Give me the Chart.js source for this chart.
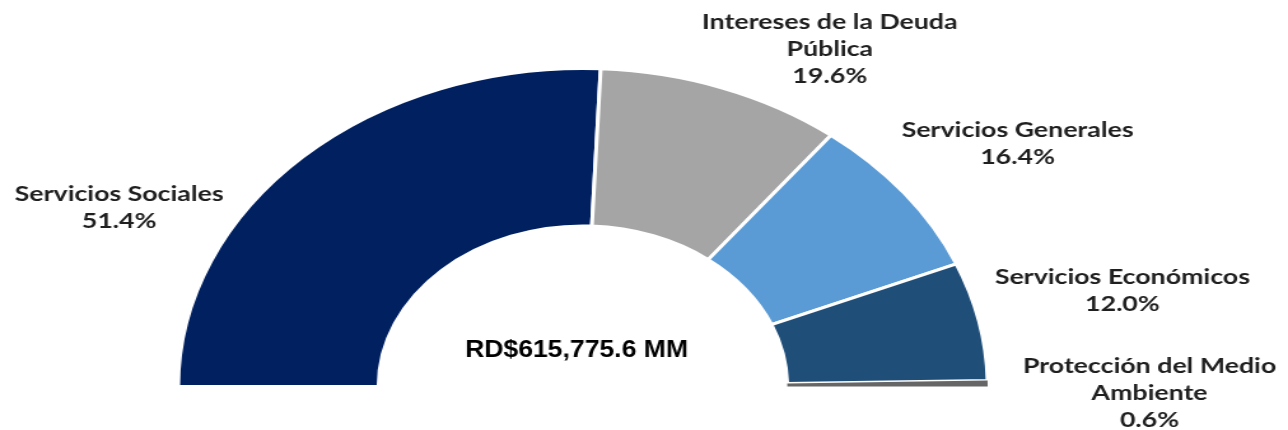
<!DOCTYPE html>
<html>
<head>
<meta charset="utf-8">
<script src="https://cdn.jsdelivr.net/npm/chart.js@4.4.1/dist/chart.umd.min.js"></script>
<style>
    html, body { margin: 0; padding: 0; background: #ffffff; }
</style>
</head>
<body>
<canvas id="budgetChart" width="1012" height="430" style="display:block;width:1288px;height:430px"></canvas>
<script>
// categories and shares (%) of the budget
const categories = [
    ['Servicios Sociales'],
    ['Intereses de la Deuda', 'Pública'],
    ['Servicios Generales'],
    ['Servicios Económicos'],
    ['Protección del Medio', 'Ambiente']
];
const shares = [51.4, 19.6, 16.4, 12.0, 0.6];
const totalLabel = 'RD$615,775.6 MM';

const sliceColors = ['#002060', '#a5a5a5', '#5b9bd5', '#1f4e79', '#666666'];
const sliceBorders = [3, 3, 3, 3, 0];

// label anchors, relative to the doughnut centre, in units of the outer radius
const labelAnchors = [
    [-1.146, -0.561],
    [0.61, -1.062],
    [1.074, -0.762],
    [1.333, -0.301],
    [1.40, 0.02]
];

const textPlugin = {
    id: 'textPlugin',
    afterDatasetsDraw(chart) {
        const ctx = chart.ctx;
        const arc = chart.getDatasetMeta(0).data[0];
        const cx = arc.x, cy = arc.y, R = arc.outerRadius;
        const lineH = 27;

        ctx.save();
        ctx.textAlign = 'center';
        ctx.textBaseline = 'middle';
        ctx.fillStyle = '#1f1f1f';
        ctx.font = 'bold 21px Lato';
        categories.forEach((lines, i) => {
            const all = lines.concat([shares[i].toFixed(1) + '%']);
            const x = cx + labelAnchors[i][0] * R;
            const y0 = cy + labelAnchors[i][1] * R - (all.length - 1) * lineH / 2;
            all.forEach((t, j) => ctx.fillText(t, x, y0 + j * lineH));
        });

        // centre total, less stretched than the labels
        ctx.translate(cx - 5, cy - 36);
        ctx.scale(0.87, 1);
        ctx.fillStyle = '#000000';
        ctx.font = 'bold 24px "Liberation Sans"';
        ctx.fillText(totalLabel, 0, 0);
        ctx.restore();
    }
};

new Chart(document.getElementById('budgetChart'), {
    type: 'doughnut',
    data: {
        labels: categories.map(c => c.join(' ')),
        datasets: [{
            data: shares,
            backgroundColor: sliceColors,
            borderColor: '#ffffff',
            borderWidth: sliceBorders
        }]
    },
    options: {
        responsive: false,
        animation: false,
        rotation: -90,
        circumference: 180,
        cutout: '50.5%',
        layout: {
            padding: { left: 137, right: 233, top: 67, bottom: 42 }
        },
        plugins: {
            legend: { display: false },
            tooltip: { enabled: false }
        }
    },
    plugins: [textPlugin]
});
</script>
</body>
</html>
